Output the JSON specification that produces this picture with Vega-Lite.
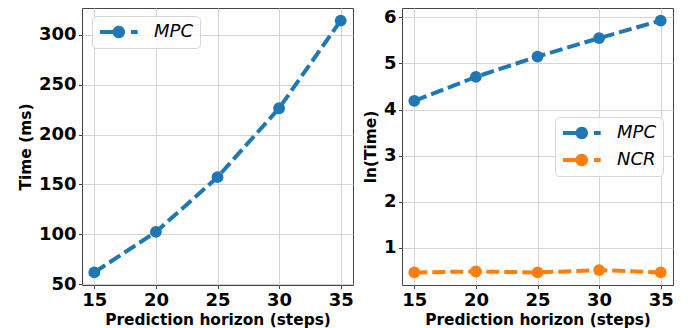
{
  "$schema": "https://vega.github.io/schema/vega-lite/v6.json",
  "padding": {"left": 17, "top": 7, "right": 5, "bottom": 5},
  "datasets": {
    "mpc": [
      {"h": 15, "series": "MPC", "t": 62},
      {"h": 20, "series": "MPC", "t": 102.5},
      {"h": 25, "series": "MPC", "t": 157.3},
      {"h": 30, "series": "MPC", "t": 226.3},
      {"h": 35, "series": "MPC", "t": 314}
    ],
    "lnt": [
      {"h": 15, "series": "MPC", "v": 4.19},
      {"h": 20, "series": "MPC", "v": 4.71},
      {"h": 25, "series": "MPC", "v": 5.15},
      {"h": 30, "series": "MPC", "v": 5.55},
      {"h": 35, "series": "MPC", "v": 5.93},
      {"h": 15, "series": "NCR", "v": 0.47},
      {"h": 20, "series": "NCR", "v": 0.49},
      {"h": 25, "series": "NCR", "v": 0.47},
      {"h": 30, "series": "NCR", "v": 0.52},
      {"h": 35, "series": "NCR", "v": 0.47}
    ]
  },
  "config": {
    "font": "DejaVu Sans",
    "view": {"stroke": "#444444", "strokeWidth": 1},
    "axis": {
      "labelFont": "DejaVu Sans", "labelFontSize": 18, "labelFontWeight": "bold", "labelColor": "#000000",
      "titleFont": "DejaVu Sans", "titleFontSize": 15.4, "titleFontWeight": "bold", "titleColor": "#000000",
      "gridColor": "#d3d3d3", "gridWidth": 1, "tickColor": "#444444", "tickSize": 3.5, "labelPadding": 2.5,
      "domain": false, "labelFlush": false
    },
    "axisX": {"titlePadding": 3},
    "axisY": {"titlePadding": 5},
    "legend": {
      "symbolType": "M-1,-0.25L1.35,-0.25L1.35,0.25L-1,0.25Z M2.875,-0.25L3.71,-0.25L3.71,0.25L2.875,0.25Z M2.13,0A0.78,0.78,0,1,1,0.57,0A0.78,0.78,0,1,1,2.13,0Z",
      "symbolSize": 256, "symbolStrokeWidth": 0, "symbolOpacity": 1,
      "labelFont": "DejaVu Sans", "labelFontSize": 18, "labelFontStyle": "italic", "labelFontWeight": "normal", "labelColor": "#000000",
      "labelOffset": 37, "padding": 7, "rowPadding": 9,
      "fillColor": "rgba(255,255,255,0.8)", "strokeColor": "#d6d6d6", "cornerRadius": 4
    }
  },
  "spacing": 49,
  "bounds": "flush",
  "resolve": {"scale": {"color": "independent"}, "legend": {"color": "independent"}},
  "hconcat": [
    {
      "width": 271, "height": 277,
      "data": {"name": "mpc"},
      "encoding": {
        "x": {"field": "h", "type": "quantitative", "scale": {"domain": [14, 36], "nice": false, "zero": false}, "axis": {"values": [15, 20, 25, 30, 35], "title": "Prediction horizon (steps)"}},
        "y": {"field": "t", "type": "quantitative", "scale": {"domain": [49.4, 326.6], "nice": false, "zero": false}, "axis": {"values": [50, 100, 150, 200, 250, 300], "title": "Time (ms)"}},
        "color": {"field": "series", "type": "nominal", "scale": {"domain": ["MPC"], "range": ["#1f77b4"]}, "legend": {"title": null, "orient": "none", "legendX": 10, "legendY": 8}}
      },
      "layer": [
        {"mark": {"type": "point", "filled": true, "size": 140, "opacity": 1}},
        {"mark": {"type": "line", "strokeWidth": 4, "strokeDash": [13, 5]}}
      ]
    },
    {
      "width": 271, "height": 277,
      "data": {"name": "lnt"},
      "encoding": {
        "x": {"field": "h", "type": "quantitative", "scale": {"domain": [14, 36], "nice": false, "zero": false}, "axis": {"values": [15, 20, 25, 30, 35], "title": "Prediction horizon (steps)"}},
        "y": {"field": "v", "type": "quantitative", "scale": {"domain": [0.197, 6.203], "nice": false, "zero": false}, "axis": {"values": [1, 2, 3, 4, 5, 6], "title": "ln(Time)"}},
        "color": {"field": "series", "type": "nominal", "scale": {"domain": ["MPC", "NCR"], "range": ["#1f77b4", "#ff7f0e"]}, "legend": {"title": null, "orient": "none", "legendX": 153, "legendY": 109}}
      },
      "layer": [
        {"mark": {"type": "point", "filled": true, "size": 140, "opacity": 1}},
        {"mark": {"type": "line", "strokeWidth": 4, "strokeDash": [13, 5]}}
      ]
    }
  ]
}
